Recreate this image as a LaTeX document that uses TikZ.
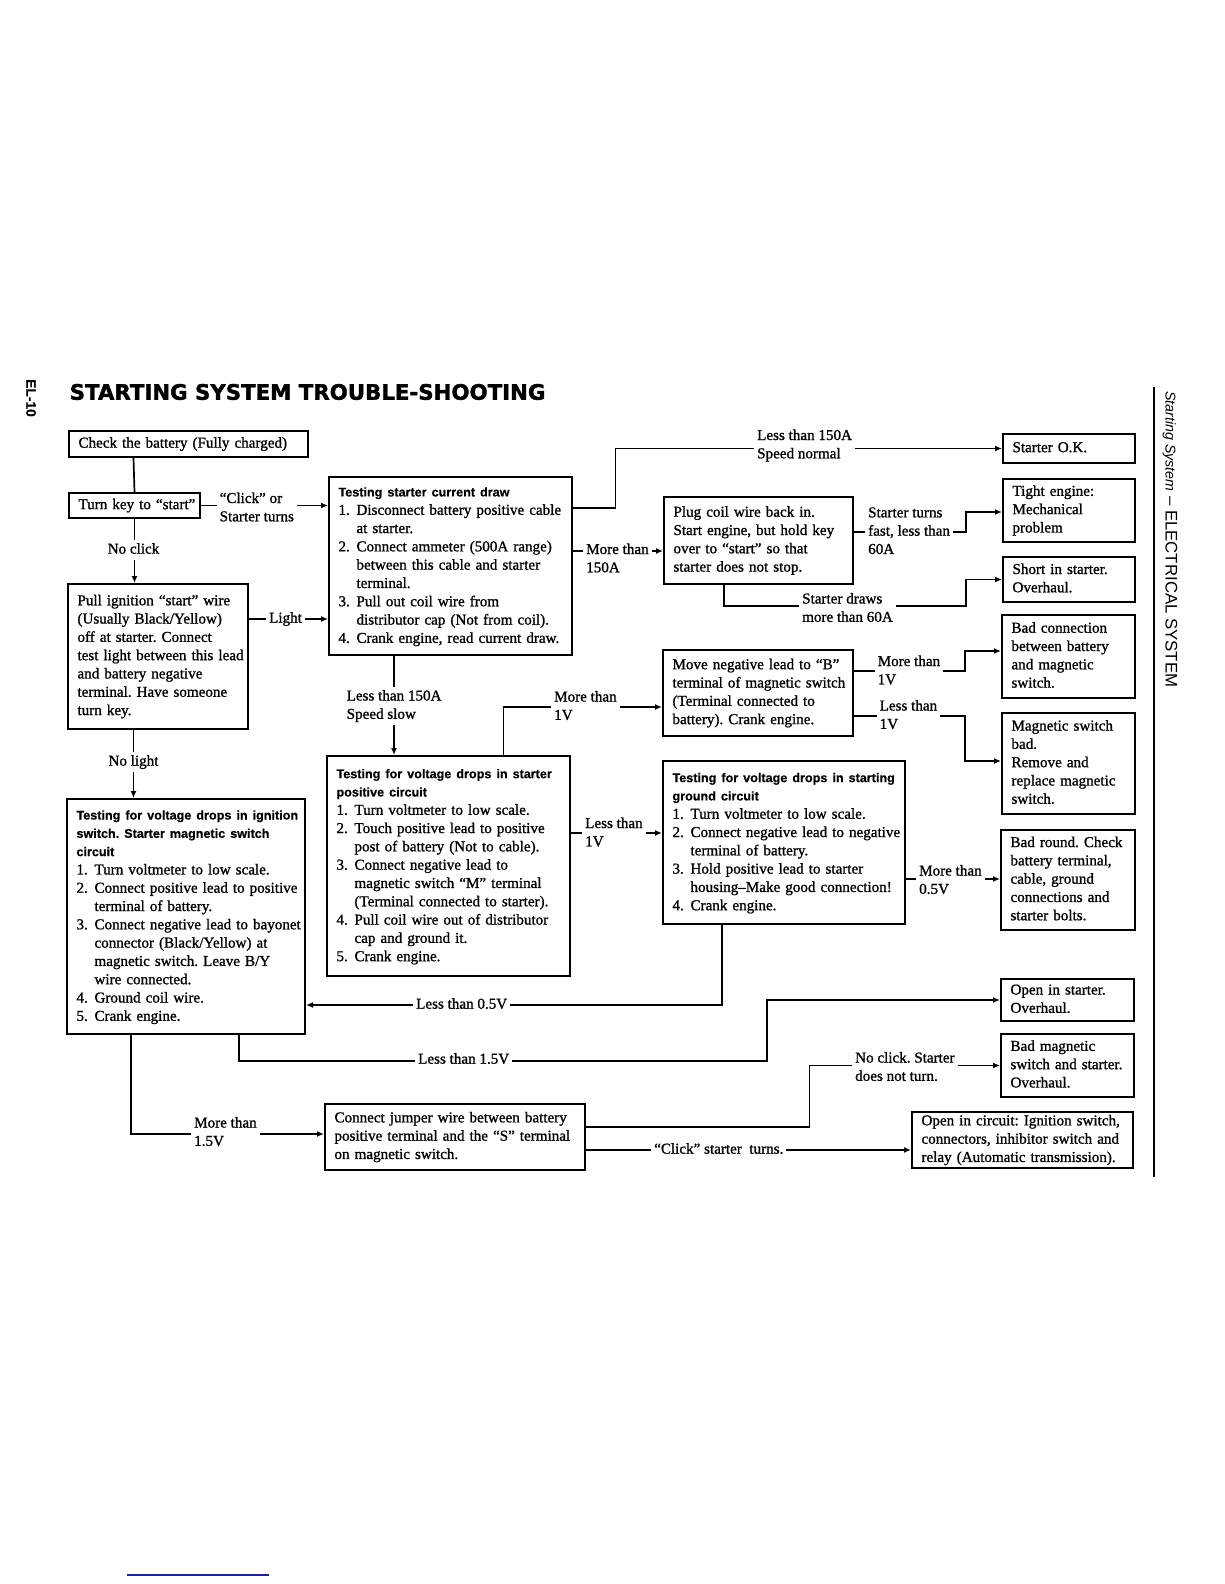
\documentclass[tikz,border=0pt]{standalone}
\usepackage{fontspec}
\setmainfont{Liberation Serif}[UprightFeatures={FakeBold=1.1}]
\setsansfont{Liberation Sans}[BoldFeatures={FakeBold=0.5}]
\newfontfamily\titlefam{DejaVu Sans}[BoldFeatures={FakeBold=1.6}]
\usetikzlibrary{arrows.meta}
\definecolor{navyline}{RGB}{35,35,140}
\newcommand{\bodyf}{\fontsize{15.1}{18.3}\selectfont}
\newcommand{\hdr}[1]{{\sffamily\bfseries\fontsize{12.6}{18.3}\selectfont #1}}
\newcommand{\inum}[1]{\makebox[18pt][l]{#1}}
\newcommand{\indt}{\hspace*{18pt}}
\newcommand{\bxt}[1]{\begin{tabular}{@{}l@{}}#1\end{tabular}}
\frenchspacing
\begin{document}
\frenchspacing
\begin{tikzpicture}[x=1pt,y=-1pt,
  box/.style={draw, line width=2pt, anchor=north west, inner xsep=9.5pt, inner ysep=0pt, align=left, font=\bodyf},
  conn/.style={line width=1.7pt},
  arr/.style={conn, -{Latex[length=7pt,width=6pt]}},
  lab/.style={fill=white, inner xsep=3pt, inner ysep=0.5pt, font=\bodyf, anchor=west}]
\useasboundingbox (0,0) rectangle (1224,1584);

% page furniture
\node[rotate=-90, font=\sffamily\bfseries\fontsize{13.8}{16}\selectfont, inner sep=0pt] (pagenum) at (31,398) {EL-10};
\node[anchor=west, inner sep=0pt, font=\titlefam\bfseries\fontsize{21.3}{24}\selectfont] (title) at (69.5,392) {STARTING SYSTEM TROUBLE-SHOOTING};
\node[rotate=-90, anchor=west, inner sep=0pt, font=\sffamily\fontsize{16.8}{18}\selectfont] (side) at (1170,391) {{\itshape\fontsize{14.2}{16}\selectfont Starting System} – ELECTRICAL SYSTEM};
\draw[line width=2.6pt] (1154,387) -- (1154,1177);
\draw[line width=1.2pt, navyline] (127,1575) -- (269,1575);

\coordinate (colA) at (133.5,0);

% boxes
\node[box, minimum width=239pt, minimum height=26pt, text width=220pt] (check) at (68,430) {\bxt{Check the battery (Fully charged)}};
\node[box, minimum width=131pt, minimum height=25pt, text width=112pt] (turnkey) at (68,492) {\bxt{Turn key to “start”}};
\node[box, minimum width=180pt, minimum height=145pt, text width=161pt] (pull) at (67,583) {\bxt{Pull ignition “start” wire\\(Usually Black/Yellow)\\off at starter. Connect\\test light between this lead\\and battery negative\\terminal. Have someone\\turn key.}};
\node[box, minimum width=238pt, minimum height=235pt, text width=219pt] (ignsw) at (66,798) {\bxt{\hdr{Testing for voltage drops in ignition}\\\hdr{switch. Starter magnetic switch}\\\hdr{circuit}\\\inum{1.}Turn voltmeter to low scale.\\\inum{2.}Connect positive lead to positive\\\indt terminal of battery.\\\inum{3.}Connect negative lead to bayonet\\\indt connector (Black/Yellow) at\\\indt magnetic switch. Leave B/Y\\\indt wire connected.\\\inum{4.}Ground coil wire.\\\inum{5.}Crank engine.}};
\node[box, minimum width=243pt, minimum height=178pt, text width=224pt] (current) at (328,476) {\bxt{\hdr{Testing starter current draw}\\\inum{1.}Disconnect battery positive cable\\\indt at starter.\\\inum{2.}Connect ammeter (500A range)\\\indt between this cable and starter\\\indt terminal.\\\inum{3.}Pull out coil wire from\\\indt distributor cap (Not from coil).\\\inum{4.}Crank engine, read current draw.}};
\node[box, minimum width=243pt, minimum height=220pt, text width=224pt] (posv) at (326,755) {\bxt{\hdr{Testing for voltage drops in starter}\\\hdr{positive circuit}\\\inum{1.}Turn voltmeter to low scale.\\\inum{2.}Touch positive lead to positive\\\indt post of battery (Not to cable).\\\inum{3.}Connect negative lead to\\\indt magnetic switch “M” terminal\\\indt (Terminal connected to starter).\\\inum{4.}Pull coil wire out of distributor\\\indt cap and ground it.\\\inum{5.}Crank engine.}};
\node[box, minimum width=260pt, minimum height=66pt, text width=241pt] (jumper) at (324,1103) {\bxt{Connect jumper wire between battery\\positive terminal and the “S” terminal\\on magnetic switch.}};
\node[box, minimum width=189pt, minimum height=87pt, text width=170pt] (plug) at (663,496) {\bxt{Plug coil wire back in.\\Start engine, but hold key\\over to “start” so that\\starter does not stop.}};
\node[box, minimum width=190pt, minimum height=86pt, text width=171pt] (moveneg) at (662,649) {\bxt{Move negative lead to “B”\\terminal of magnetic switch\\(Terminal connected to\\battery). Crank engine.}};
\node[box, minimum width=242pt, minimum height=163pt, text width=223pt] (ground) at (662,760) {\bxt{\hdr{Testing for voltage drops in starting}\\\hdr{ground circuit}\\\inum{1.}Turn voltmeter to low scale.\\\inum{2.}Connect negative lead to negative\\\indt terminal of battery.\\\inum{3.}Hold positive lead to starter\\\indt housing–Make good connection!\\\inum{4.}Crank engine.}};
\node[box, minimum width=132pt, minimum height=29pt, text width=113pt] (ok) at (1002,433) {\bxt{Starter O.K.}};
\node[box, minimum width=132pt, minimum height=63pt, text width=113pt] (tight) at (1002,478) {\bxt{Tight engine:\\Mechanical\\problem}};
\node[box, minimum width=132pt, minimum height=45pt, text width=113pt] (short) at (1002,556) {\bxt{Short in starter.\\Overhaul.}};
\node[box, minimum width=133pt, minimum height=83pt, text width=114pt] (badconn) at (1001,614) {\bxt{Bad connection\\between battery\\and magnetic\\switch.}};
\node[box, minimum width=133pt, minimum height=101pt, text width=114pt] (magsw) at (1001,712) {\bxt{Magnetic switch\\bad.\\Remove and\\replace magnetic\\switch.}};
\node[box, minimum width=134pt, minimum height=100pt, text width=115pt] (badround) at (1000,829) {\bxt{Bad round. Check\\battery terminal,\\cable, ground\\connections and\\starter bolts.}};
\node[box, minimum width=133pt, minimum height=42pt, text width=114pt] (opst) at (1000,978) {\bxt{Open in starter.\\Overhaul.}};
\node[box, minimum width=133pt, minimum height=63pt, text width=114pt] (badmag) at (1000,1033) {\bxt{Bad magnetic\\switch and starter.\\Overhaul.}};
\node[box, minimum width=221pt, minimum height=56pt, text width=202pt] (opcirc) at (911,1111) {\bxt{Open in circuit: Ignition switch,\\connectors, inhibitor switch and\\relay (Automatic transmission).}};

% connectors
\draw[conn] (check.south -| colA) -- (turnkey.north);
\draw[arr] (turnkey.east) -- (current.west |- turnkey.east);
\draw[arr] (turnkey.south) -- (turnkey.south |- pull.north);
\draw[arr] (pull.east |- 0,619) -- (current.west |- 0,619);
\draw[arr] (pull.south -| colA) -- (colA |- ignsw.north);
\draw[arr] (current.east |- 0,508) -- (615.5,508) |- (ok.west);
\draw[arr] (current.east |- 0,551) -- (plug.west |- 0,551);
\draw[arr] (plug.east |- 0,532) -- (966,532) |- (tight.west |- 0,512);
\draw[arr] (plug.south -| 724,0) -- (724,606) -- (966,606) |- (short.west);
\draw[arr] (current.south -| 394,0) -- (posv.north -| 394,0);
\draw[arr] (posv.north -| 503.5,0) |- (moveneg.west |- 0,707);
\draw[arr] (posv.east |- 0,833) -- (ground.west |- 0,833);
\draw[arr] (moveneg.east |- 0,671) -- (965,671) |- (badconn.west |- 0,651);
\draw[arr] (moveneg.east |- 0,716) -- (965,716) |- (magsw.west |- 0,761);
\draw[arr] (ground.east |- 0,879) -- (badround.west |- 0,879);
\draw[arr] (ground.south -| 722,0) |- (ignsw.east |- 0,1005);
\draw[arr] (ignsw.south -| 239,0) |- (767,1061) |- (opst.west);
\draw[arr] (ignsw.south -| 131,0) |- (jumper.west |- 0,1134);
\draw[arr] (jumper.east |- 0,1127) -- (809.5,1127) |- (badmag.west);
\draw[arr] (jumper.east |- 0,1150) -- (opcirc.west |- 0,1150);

% labels
\node[lab] (lclick) at (216.5,508.5) {\bxt{“Click” or\\Starter turns}};
\node[lab] (llight) at (266,619) {\bxt{Light}};
\node[lab, anchor=center] (lnoclick) at (133.5,550) {\bxt{No click}};
\node[lab, anchor=center] (lnolight) at (133.5,762) {\bxt{No light}};
\node[lab] (l150n) at (754,445.5) {\bxt{Less than 150A\\Speed normal}};
\node[lab] (lm150) at (583,559.5) {\bxt{More than\\150A}};
\node[lab] (lfast) at (865,532) {\bxt{Starter turns\\fast, less than\\60A}};
\node[lab] (ldraws) at (799,609) {\bxt{Starter draws\\more than 60A}};
\node[lab] (l150s) at (343.5,706) {\bxt{Less than 150A\\Speed slow}};
\node[lab] (lm1a) at (551,707) {\bxt{More than\\1V}};
\node[lab] (ll1a) at (582,833.5) {\bxt{Less than\\1V}};
\node[lab] (lm1b) at (874.5,671.5) {\bxt{More than\\1V}};
\node[lab] (ll1b) at (876.5,716) {\bxt{Less than\\1V}};
\node[lab] (lm05) at (916,881) {\bxt{More than\\0.5V}};
\node[lab] (ll05) at (413,1005) {\bxt{Less than 0.5V}};
\node[lab] (ll15) at (415,1060) {\bxt{Less than 1.5V}};
\node[lab] (lm15) at (191,1133) {\bxt{More than\\1.5V}};
\node[lab] (lnc) at (852,1068) {\bxt{No click. Starter\\does not turn.}};
\node[lab] (lck) at (651,1150) {\bxt{“Click” starter\ \ turns.}};
\end{tikzpicture}
\end{document}
